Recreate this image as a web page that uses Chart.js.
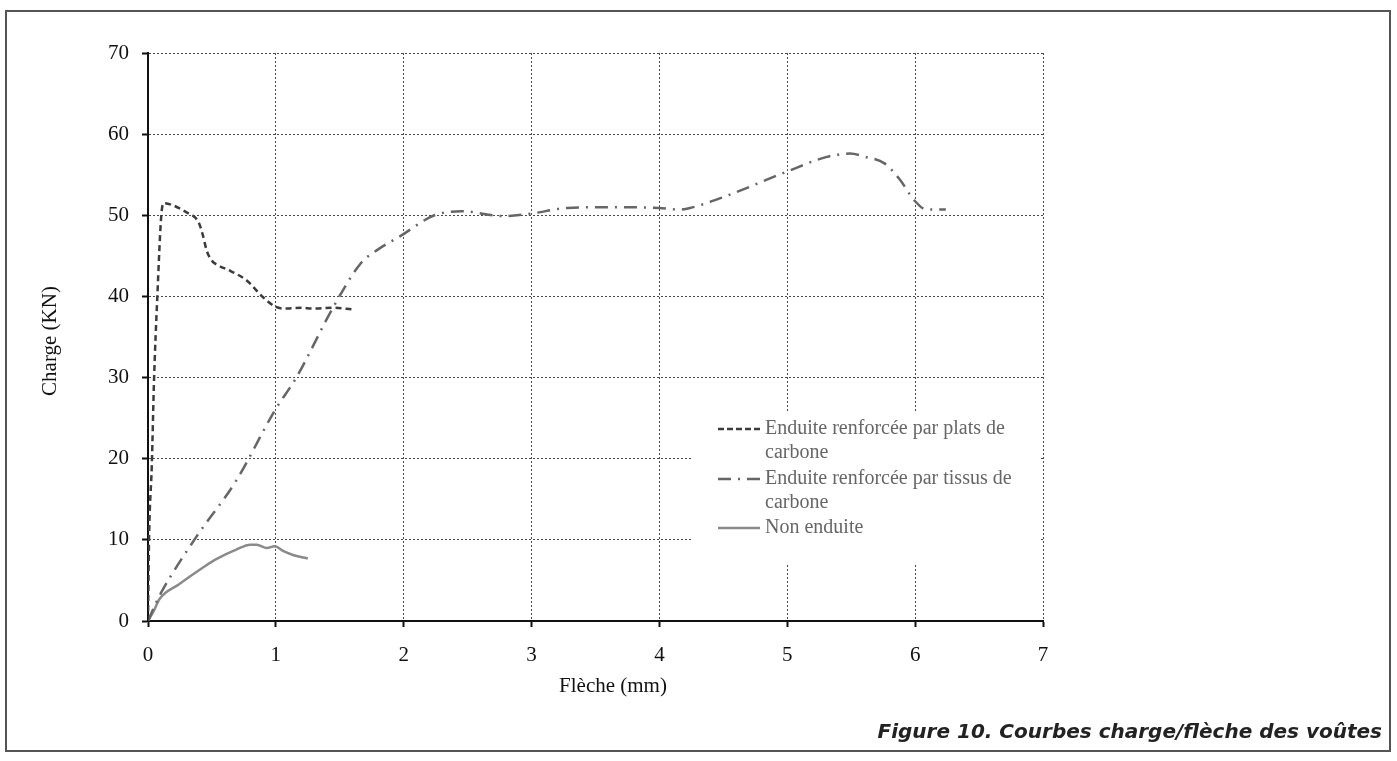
<!DOCTYPE html>
<html>
<head>
<meta charset="utf-8">
<script src="https://cdn.jsdelivr.net/npm/chart.js@4/dist/chart.umd.min.js"></script>
<style>
body { margin: 0; background: #fff; }
#wrap { position: relative; width: 1397px; height: 761px; }
#frame { position: absolute; left: 5px; top: 10px; width: 1386px; height: 742px; border: 2px solid #555; box-sizing: border-box; }
#caption { position: absolute; right: 15px; top: 719px; font-family: "DejaVu Sans"; font-weight: bold; font-style: italic; font-size: 20px; color: #222; white-space: nowrap; }
canvas { position: absolute; left: 0; top: 0; }
</style>
</head>
<body>
<div id="wrap">
  <div id="frame"></div>
  <canvas id="chartLine" width="1397" height="761"></canvas>
  <div id="caption">Figure 10. Courbes charge/flèche des voûtes</div>
</div>
<script>
// axis ticks
const xTicks = [0, 1, 2, 3, 4, 5, 6, 7]
const yTicks = [0, 10, 20, 30, 40, 50, 60, 70]

// Enduite renforcée par plats de carbone
const platsX = [0, 0.008, 0.03, 0.047, 0.073, 0.105, 0.126, 0.2, 0.32, 0.37, 0.4, 0.43, 0.46, 0.5, 0.53, 0.65, 0.77, 0.9, 1.0, 1.08, 1.2, 1.29, 1.45, 1.6]
const platsY = [0, 9.9, 19.3, 29.6, 40, 50.2, 51.5, 51.2, 50.2, 49.7, 49.0, 47.5, 45.6, 44.4, 44.0, 43.1, 42.0, 39.9, 38.7, 38.5, 38.6, 38.5, 38.6, 38.4]

// Enduite renforcée par tissus de carbone
const tissusX = [0, 0.05, 0.11, 0.375, 0.69, 0.99, 1.16, 1.45, 1.66, 1.8, 1.97, 2.24, 2.45, 2.78, 2.99, 3.28, 3.6, 4.0, 4.15, 4.24, 4.51, 5.0, 5.31, 5.49, 5.61, 5.76, 5.88, 5.99, 6.09, 6.24]
const tissusY = [0, 1.8, 3.7, 10.3, 17.3, 25.9, 30.0, 38.7, 44.0, 45.8, 47.4, 50.0, 50.5, 49.9, 50.2, 50.9, 51.0, 50.9, 50.7, 50.9, 52.3, 55.4, 57.2, 57.6, 57.2, 56.4, 54.4, 51.9, 50.7, 50.7]

// Non enduite
const nonX = [0, 0.05, 0.09, 0.24, 0.43, 0.53, 0.69, 0.8, 0.85, 0.93, 0.99, 1.06, 1.14, 1.25]
const nonY = [0, 1.4, 2.7, 4.5, 6.6, 7.6, 8.8, 9.4, 9.4, 9.0, 9.2, 8.6, 8.1, 7.7]

const legendLines = [
    ["Enduite renforcée par plats de", "carbone"],
    ["Enduite renforcée par tissus de", "carbone"],
    ["Non enduite"]
]

function toPoints(xs, ys) {
    return xs.map((x, i) => ({ x: x, y: ys[i] }))
}

const serif = "'Liberation Serif', 'Times New Roman', serif"

const dataLine = {
    datasets: [
        {
            label: legendLines[0].join(" "),
            data: toPoints(platsX, platsY),
            borderColor: "#3c3c3c",
            borderWidth: 2.5,
            borderDash: [6, 4],
            pointRadius: 0,
            cubicInterpolationMode: "monotone"
        },
        {
            label: legendLines[1].join(" "),
            data: toPoints(tissusX, tissusY),
            borderColor: "#666666",
            borderWidth: 2.5,
            borderDash: [13, 7, 2, 7],
            pointRadius: 0,
            cubicInterpolationMode: "monotone"
        },
        {
            label: legendLines[2].join(" "),
            data: toPoints(nonX, nonY),
            borderColor: "#8a8a8a",
            borderWidth: 2.5,
            pointRadius: 0,
            cubicInterpolationMode: "monotone"
        }
    ]
}

// white legend box with multi-line labels, drawn over the grid
const legendBox = {
    id: "legendBox",
    beforeDatasetsDraw(chart) {
        const ctx = chart.ctx
        ctx.save()
        ctx.fillStyle = "#ffffff"
        ctx.fillRect(692, 411, 348, 154)
        const rows = [429, 479, 528]
        ctx.font = "20px " + serif
        ctx.textBaseline = "middle"
        ctx.textAlign = "left"
        chart.data.datasets.forEach((ds, i) => {
            const y = rows[i]
            ctx.strokeStyle = ds.borderColor
            ctx.lineWidth = ds.borderWidth
            ctx.setLineDash(i == 0 ? [6, 3] : (ds.borderDash || []))
            ctx.beginPath()
            ctx.moveTo(718, y)
            ctx.lineTo(760, y)
            ctx.stroke()
            ctx.fillStyle = "#666666"
            legendLines[i].forEach((t, j) => ctx.fillText(t, 765, y + j * 23.5))
        })
        ctx.restore()
    }
}

// axis titles
const axisTitles = {
    id: "axisTitles",
    afterDraw(chart) {
        const ctx = chart.ctx
        ctx.save()
        ctx.font = "21px " + serif
        ctx.fillStyle = "#111111"
        ctx.textAlign = "center"
        ctx.textBaseline = "middle"
        ctx.fillText("Flèche (mm)", 613, 686)
        ctx.translate(50, 341)
        ctx.rotate(-Math.PI / 2)
        ctx.fillText("Charge (KN)", 0, 0)
        ctx.restore()
    }
}

const configLineChart = {
    type: "line",
    data: dataLine,
    options: {
        responsive: false,
        animation: false,
        layout: {
            padding: { left: 0, top: 53, right: 354, bottom: 0 }
        },
        plugins: {
            legend: { display: false },
            tooltip: { enabled: false }
        },
        scales: {
            x: {
                type: "linear",
                min: 0,
                max: 7,
                afterBuildTicks: (scale) => { scale.ticks = xTicks.map(v => ({ value: v })) },
                afterFit: (scale) => { scale.height = 140; scale.paddingLeft = 0; scale.paddingRight = 0 },
                ticks: {
                    color: "#111111",
                    padding: 16,
                    font: { family: serif, size: 21 }
                },
                grid: {
                    color: "#4a4a4a",
                    lineWidth: 1,
                    tickColor: "#111111",
                    tickWidth: 2,
                    tickLength: 6
                },
                border: { color: "#111111", width: 2, dash: [2, 2] }
            },
            y: {
                min: 0,
                max: 70,
                afterBuildTicks: (scale) => { scale.ticks = yTicks.map(v => ({ value: v })) },
                afterFit: (scale) => { scale.width = 148; scale.paddingTop = 0; scale.paddingBottom = 0 },
                ticks: {
                    color: "#111111",
                    padding: 13,
                    font: { family: serif, size: 21 }
                },
                grid: {
                    color: "#4a4a4a",
                    lineWidth: 1,
                    tickColor: "#111111",
                    tickWidth: 2,
                    tickLength: 6
                },
                border: { color: "#111111", width: 2, dash: [2, 2] }
            }
        }
    },
    plugins: [legendBox, axisTitles]
}

var chartLine = new Chart(document.getElementById("chartLine"), configLineChart)
</script>
</body>
</html>
